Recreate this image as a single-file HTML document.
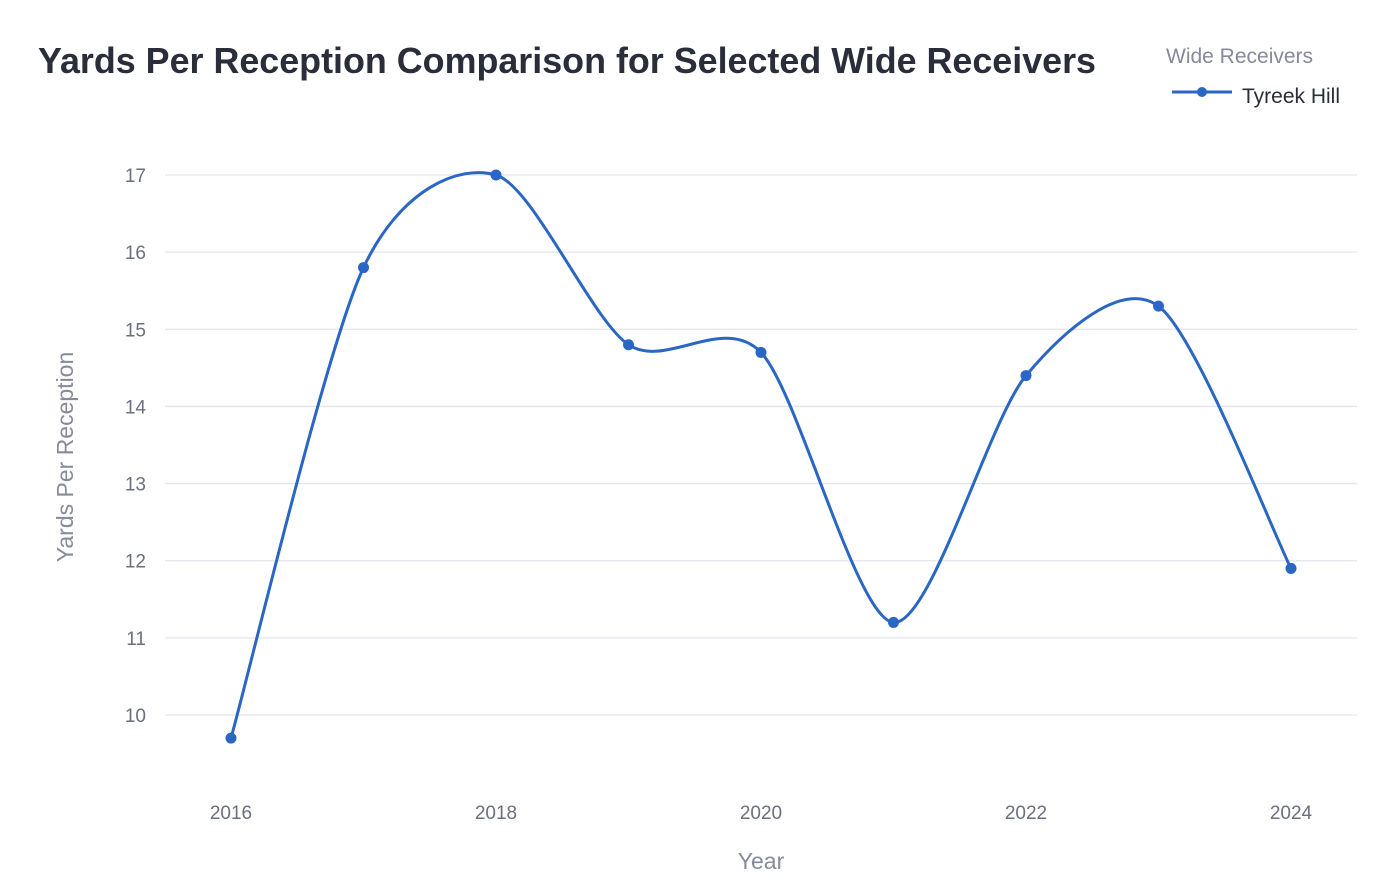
<!DOCTYPE html>
<html><head><meta charset="utf-8"><style>
html,body{margin:0;padding:0;background:#fff;}
svg{display:block;font-family:"Liberation Sans",sans-serif;}
</style></head><body>
<svg id="chart" width="1384" height="886" viewBox="0 0 1384 886">
<text x="38" y="73" font-size="36" font-weight="bold" fill="#2a2d3a" textLength="1058" lengthAdjust="spacingAndGlyphs">Yards Per Reception Comparison for Selected Wide Receivers</text>
<g id="legend">
<text x="1166" y="63" font-size="21" fill="#868a99">Wide Receivers</text>
<line x1="1172" y1="92" x2="1232" y2="92" stroke="#2a66c4" stroke-width="3"/>
<circle cx="1202" cy="92" r="5" fill="#2a66c4"/>
<text x="1242" y="103" font-size="21" fill="#2a2d3a">Tyreek Hill</text>
</g>
<g id="grid"></g>
<g id="xticks"></g>
<g id="yticks"></g>
<text x="73" y="457" font-size="23" fill="#868a99" text-anchor="middle" transform="rotate(-90 73 457)">Yards Per Reception</text>
<text x="761" y="869" font-size="23" fill="#868a99" text-anchor="middle">Year</text>
<g id="series"></g>
</svg>
<script>
const years = [2016, 2017, 2018, 2019, 2020, 2021, 2022, 2023, 2024];
const ypr = [9.7, 15.8, 17.0, 14.8, 14.7, 11.2, 14.4, 15.3, 11.9];
const yTickValues = [10, 11, 12, 13, 14, 15, 16, 17];
const xTickValues = [2016, 2018, 2020, 2022, 2024];

const NS = "http://www.w3.org/2000/svg";
const xs = v => 231 + (v - 2016) * (1291 - 231) / 8;
const ys = v => 715 - (v - 10) * (715 - 175) / 7;
function mk(tag, attrs, parent) {
  const e = document.createElementNS(NS, tag);
  for (const k in attrs) e.setAttribute(k, attrs[k]);
  parent.appendChild(e);
  return e;
}
const grid = document.getElementById('grid');
const yt = document.getElementById('yticks');
yTickValues.forEach(v => {
  const l = mk('line', {x1: 165, x2: 1357, y1: ys(v), y2: ys(v), stroke: '#e3e5ec', 'stroke-width': 1.3}, grid);
  
  
  const t = mk('text', {x: 146, y: ys(v) + 7, 'font-size': 19, fill: '#6b6f80', 'text-anchor': 'end'}, yt);
  t.textContent = v;
  
  
});
const xt = document.getElementById('xticks');
xTickValues.forEach(v => {
  const t = mk('text', {x: xs(v), y: 819, 'font-size': 19, fill: '#6b6f80', 'text-anchor': 'middle'}, xt);
  t.textContent = v;
  
  
});
const pts = years.map((y, i) => [xs(y), ys(ypr[i])]);
let d = 'M' + pts[0][0] + ',' + pts[0][1];
const s = 0.14;
for (let i = 0; i < pts.length - 1; i++) {
  const p0 = pts[Math.max(0, i - 1)], p1 = pts[i], p2 = pts[i + 1], p3 = pts[Math.min(pts.length - 1, i + 2)];
  const c1 = [p1[0] + (p2[0] - p0[0]) * s, p1[1] + (p2[1] - p0[1]) * s];
  const c2 = [p2[0] - (p3[0] - p1[0]) * s, p2[1] - (p3[1] - p1[1]) * s];
  d += ' C' + c1 + ' ' + c2 + ' ' + p2;
}
const series = document.getElementById('series');
const path = mk('path', {d: d, fill: 'none', stroke: '#2a66c4', 'stroke-width': 3}, series);


pts.forEach((p, i) => {
  const c = mk('circle', {cx: p[0], cy: p[1], r: 5.5, fill: '#2a66c4'}, series);
  
  
});
</script>
</body></html>
